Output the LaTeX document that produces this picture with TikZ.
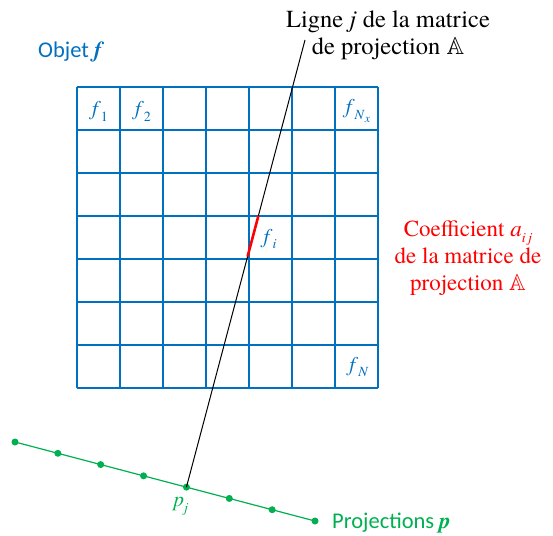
\documentclass[tikz,border=0pt]{standalone}
\usepackage{amsmath,amssymb,bm}
\usepackage{fontspec}
\newfontfamily\serifont{texgyretermes}[Extension=.otf, UprightFont=*-regular, ItalicFont=*-italic, BoldFont=*-bold, BoldItalicFont=*-bolditalic]
\newfontfamily\calib{Carlito}
\usetikzlibrary{calc}
\definecolor{objblue}{RGB}{0,112,192}
\definecolor{projgreen}{RGB}{0,176,80}
\definecolor{coefred}{RGB}{255,0,0}
\newcommand\lblsub[1]{\raisebox{-0.28em}{\fontsize{14}{14}\selectfont #1}}
\tikzset{
  gridline/.style={draw=objblue, line width=1.2pt},
  cellmath/.style={text=objblue, font=\serifont\fontsize{21}{24}\selectfont, inner sep=0pt},
  sanslabel/.style={font=\calib\fontsize{22.5}{26}\selectfont, inner sep=0pt},
  seriflabel/.style={font=\serifont\fontsize{23}{27}\selectfont, align=center, inner sep=0pt},
  projdot/.style={circle, fill=projgreen, inner sep=0pt, minimum size=7pt},
}
\begin{document}
\begin{tikzpicture}[x=1pt,y=-1pt]
\useasboundingbox (0,0) rectangle (553,535);
% grid
\foreach \i in {0,...,7} {
  \draw[gridline] ({77+43*\i},87) -- ({77+43*\i},388);
  \draw[gridline] (77,{87+43*\i}) -- (378,{87+43*\i});
}
% cell labels
\node[cellmath] (f1) at (100,111) {\textit{f}\lblsub{1}};
\node[cellmath] (f2) at (143,111) {\textit{f}\lblsub{2}};
\node[cellmath] (fNx) at (358,111) {\textit{f}\lblsub{\textit{N}\lblsub{\fontsize{12}{12}\selectfont\textit{x}}}};
\node[cellmath] (fi) at (270,239) {\textit{f}\lblsub{\textit{i}}};
\node[cellmath] (fN) at (359,367) {\textit{f}\lblsub{\textit{N}}};
% object label
\node[sanslabel, text=objblue, anchor=west] (obj) at (38,52) {Objet {\serifont\bfseries\itshape f}};
% projection line
\coordinate (g0) at (15,442);
\coordinate (g7) at (315,521);
\draw[projgreen, line width=1.2pt] (g0) -- (g7);
\foreach \k in {0,...,7} {
  \node[projdot] (d\k) at ($(g0)!{\k/7}!(g7)$) {};
}
\node[cellmath, text=projgreen] (pj) at (181,506) {\textit{p}\lblsub{\textit{j}}};
\node[sanslabel, text=projgreen, anchor=west] (projs) at (332,523) {Projections {\serifont\bfseries\itshape p}};
% ray
\coordinate (top) at (305,40);
\draw[black, line width=1pt] (d4.center) -- (top);
\coordinate (r1) at ($(d4.center)!{(488-216)/448}!(top)$);
\coordinate (r2) at ($(d4.center)!{(488-257)/448}!(top)$);
\draw[coefred, line width=2.6pt] (r2) -- (r1);
% texts
\node[seriflabel, font=\serifont\fontsize{24.5}{27}\selectfont] (ligne) at (388,35) {Ligne \textit{j} de la matrice\\de projection $\mathbb{A}$};
\node[seriflabel, text=coefred] (coef) at (468,258) {Coefficient \textit{a}\lblsub{\textit{i\,j}}\\de la matrice de\\projection $\mathbb{A}$};
\end{tikzpicture}
\end{document}
